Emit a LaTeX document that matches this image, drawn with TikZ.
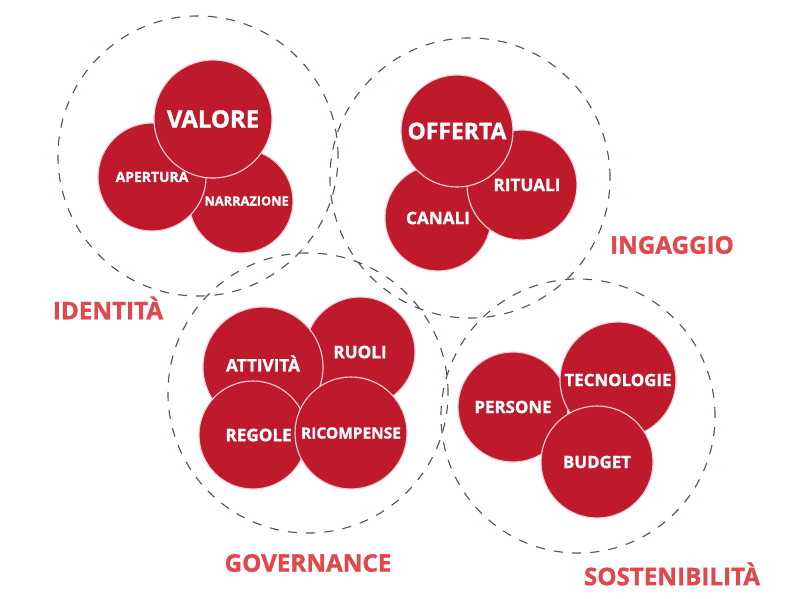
\documentclass[tikz,border=0pt]{standalone}
\usepackage{fontspec}
\setmainfont{Open Sans}[BoldFeatures={FakeBold=1.3}]
\usepackage{xcolor}
\definecolor{discred}{HTML}{BE1A2C}
\definecolor{titlered}{HTML}{E0484E}
\definecolor{ringgray}{HTML}{475869}

\begin{document}
\begin{tikzpicture}[x=0.025cm,y=-0.025cm,
  ring/.style={circle,draw=ringgray,line width=0.8pt,dash pattern=on 6.5pt off 6.5pt,inner sep=0pt,minimum size=7cm},
  disc/.style={circle,fill=discred,draw=white!80!discred,line width=0.8pt,inner sep=0pt,text=white},
  title/.style={text=titlered,font=\fontsize{17.2}{19}\selectfont\bfseries}]
  \useasboundingbox (0,0) rectangle (800,598);
  % dashed rings
  \node[ring] (idring) at (198,156) {};
  \node[ring] (inring) at (470,178) {};
  \node[ring] (gvring) at (308,393) {};
  \node[ring,minimum size=6.85cm] (ssring) at (578,416) {};
  % identita
  \node[disc,minimum size=2.6cm,font=\fontsize{9.1}{10}\selectfont\bfseries] (narraz) at (241,201) {\hspace{8pt}NARRAZIONE};
  \node[disc,minimum size=2.7cm,font=\fontsize{9.9}{11}\selectfont\bfseries] (apert) at (152,177) {\raisebox{-4pt}{APERTURA}};
  \node[disc,minimum size=2.95cm,font=\fontsize{17}{19}\selectfont\bfseries] (valore) at (213,119) {VALORE};
  % ingaggio
  \node[disc,minimum size=2.65cm,font=\fontsize{12.2}{14}\selectfont\bfseries] (canali) at (438,218) {CANALI};
  \node[disc,minimum size=2.75cm,font=\fontsize{12.2}{14}\selectfont\bfseries] (rituali) at (522,185) {\hspace{7pt}RITUALI};
  \node[disc,minimum size=2.8cm,font=\fontsize{16.3}{18}\selectfont\bfseries] (offerta) at (457,131) {OFFERTA};
  % governance
  \node[disc,minimum size=2.75cm,font=\fontsize{12.2}{14}\selectfont\bfseries] (ruoli) at (360,352) {RUOLI};
  \node[disc,minimum size=3cm,font=\fontsize{12.2}{14}\selectfont\bfseries] (attiv) at (263,367) {\raisebox{5pt}{ATTIVITÀ}};
  \node[disc,minimum size=2.7cm,font=\fontsize{12.2}{14}\selectfont\bfseries] (regole) at (253,435) {\hspace{8pt}REGOLE};
  \node[disc,minimum size=2.8cm,font=\fontsize{11}{13}\selectfont\bfseries] (ricomp) at (351,433) {RICOMPENSE};
  % sostenibilita
  \node[disc,minimum size=2.75cm,font=\fontsize{12}{14}\selectfont\bfseries] (persone) at (513,407) {PERSONE};
  \node[disc,minimum size=2.9cm,font=\fontsize{12}{14}\selectfont\bfseries] (tecno) at (618,380) {TECNOLOGIE};
  \node[disc,minimum size=2.8cm,font=\fontsize{12}{14}\selectfont\bfseries] (budget) at (597,462) {BUDGET};
  % titles
  \node[title] (tid) at (108,308) {IDENTITÀ};
  \node[title] (ting) at (672,245) {INGAGGIO};
  \node[title] (tgov) at (308,563) {GOVERNANCE};
  \node[title] (tsos) at (672,574) {SOSTENIBILITÀ};
\end{tikzpicture}
\end{document}
